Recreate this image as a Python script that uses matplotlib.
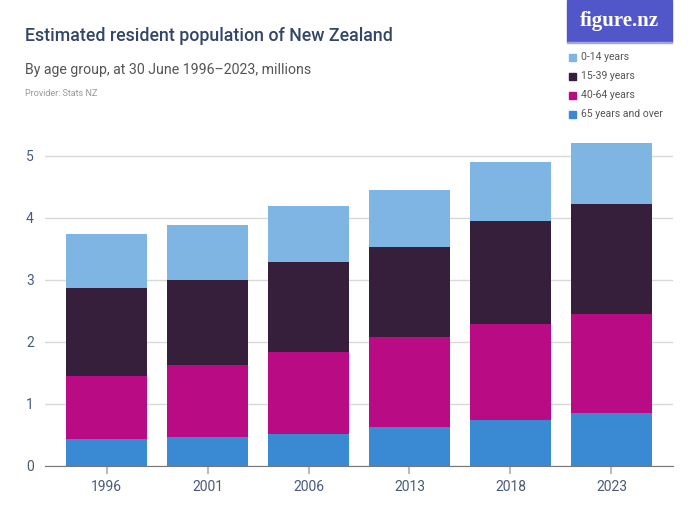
import matplotlib.pyplot as plt
import numpy as np
from matplotlib.patches import Rectangle

years = ['1996', '2001', '2006', '2013', '2018', '2023']
age_groups = ['0-14 years', '15-39 years', '40-64 years', '65 years and over']

# values in millions
age_65_plus = [0.435, 0.468, 0.516, 0.634, 0.737, 0.855]
age_40_64 = [1.011, 1.156, 1.323, 1.447, 1.548, 1.591]
age_15_39 = [1.430, 1.376, 1.451, 1.451, 1.672, 1.785]
age_0_14 = [0.861, 0.882, 0.898, 0.914, 0.946, 0.973]

colors = {'0-14 years': '#7EB5E3', '15-39 years': '#351F3B',
          '40-64 years': '#B90C84', '65 years and over': '#3A89D3'}

plt.rcParams['font.family'] = ['Roboto', 'DejaVu Sans']

fig = plt.figure(figsize=(7, 5.25), dpi=100)
ax = fig.add_axes([0.0643, 0.1124, 0.8971, 0.626])

x = np.arange(len(years))
bottom = np.zeros(len(years))
stack = [('65 years and over', age_65_plus), ('40-64 years', age_40_64),
         ('15-39 years', age_15_39), ('0-14 years', age_0_14)]
for name, vals in stack:
    ax.bar(x, vals, width=0.8, bottom=bottom, color=colors[name], zorder=3)
    bottom += np.array(vals)

ax.set_xlim(-0.61, 5.61)
ax.set_ylim(0, 5.3)
ax.set_xticks(x)
ax.set_xticklabels(years)
ax.set_yticks([0, 1, 2, 3, 4, 5])
ax.yaxis.grid(True, color='#D9D9D9', linewidth=1, zorder=0)
for s in ['top', 'right', 'left']:
    ax.spines[s].set_visible(False)
ax.spines['bottom'].set_color('#777777')
ax.tick_params(axis='y', length=0, labelsize=10, labelcolor='#4A5A7A', pad=8)
ax.tick_params(axis='x', length=6, width=1.5, color='#BBBBBB', labelsize=10,
               labelcolor='#4A5A7A', pad=4)

fig.text(25 / 700, 1 - 36 / 525, 'Estimated resident population of New Zealand',
         fontsize=12.8, fontweight='medium', color='#33466A', va='center')
fig.text(25 / 700, 1 - 70 / 525, 'By age group, at 30 June 1996–2023, millions',
         fontsize=10.2, color='#555555', va='center')
fig.text(25 / 700, 1 - 94 / 525, 'Provider: Stats NZ',
         fontsize=6.5, color='#999999', va='center')

# logo box
fig.patches.append(Rectangle((567 / 700, 1 - 42 / 525), 105 / 700, 42 / 525,
                             transform=fig.transFigure, color='#5157C9', zorder=0))
fig.patches.append(Rectangle((567 / 700, 1 - 43 / 525), 105 / 700, 1.2 / 525,
                             transform=fig.transFigure, color='#A3A6E0', zorder=0))
fig.text(619 / 700, 1 - 21 / 525, 'figure.nz', fontsize=15, fontweight='bold',
         color='white', ha='center', va='center', family='Liberation Serif')

# legend
for i, name in enumerate(age_groups):
    yy = 1 - (57 + 19 * i) / 525
    fig.patches.append(Rectangle((569 / 700, yy - 4 / 525), 7 / 700, 7 / 525,
                                 transform=fig.transFigure, color=colors[name]))
    fig.text(581 / 700, yy, name, fontsize=7.5, color='#555555', va='center')

fig.savefig('out.png', dpi=100)
